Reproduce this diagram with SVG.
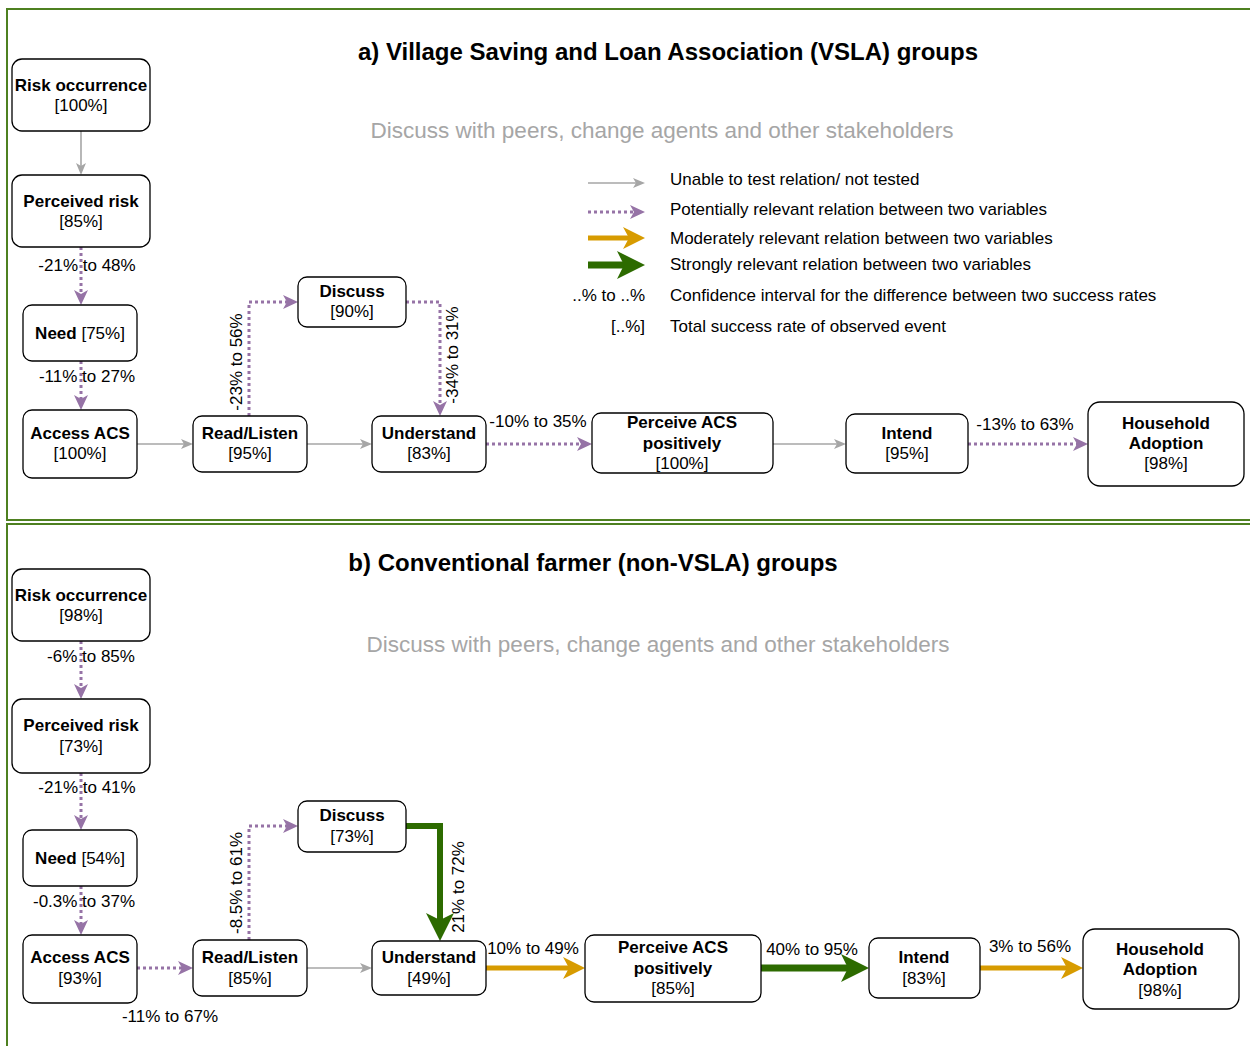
<svg xmlns="http://www.w3.org/2000/svg" width="1250" height="1046" viewBox="0 0 1250 1046">
<style>
.frame{fill:none;stroke:#4e8020;stroke-width:2}
.node rect{fill:#fff;stroke:#000;stroke-width:1.3}
text{font-family:"Liberation Sans",Arial,sans-serif;fill:#000}
.t{font-size:17px;text-anchor:middle}
.b{font-weight:bold}
.lbl{font-size:17px;text-anchor:middle}
.lg{font-size:17px}
.title{font-size:24px;font-weight:bold;text-anchor:middle}
.sub{font-size:22.5px;fill:#a6a6a6;text-anchor:middle}
.gray{fill:none;stroke:#a6a6a6;stroke-width:1.6}
.pur{fill:none;stroke:#9673a6;stroke-width:3;stroke-dasharray:3 3}
.ora{fill:none;stroke:#d79b00;stroke-width:5}
.grn{fill:none;stroke:#2d6b00;stroke-width:7}
</style>
<defs>
<marker id="mG" markerUnits="userSpaceOnUse" markerWidth="12" markerHeight="10" refX="3" refY="5" orient="auto" overflow="visible"><path d="M0,0 L12,5 L0,10 L3,5 Z" fill="#a6a6a6"/></marker>
<marker id="mP" markerUnits="userSpaceOnUse" markerWidth="15" markerHeight="14" refX="4" refY="7" orient="auto" overflow="visible"><path d="M0,0 L15,7 L0,14 L4,7 Z" fill="#9673a6"/></marker>
<marker id="mO" markerUnits="userSpaceOnUse" markerWidth="22" markerHeight="22" refX="6" refY="11" orient="auto" overflow="visible"><path d="M0,0 L22,11 L0,22 L6,11 Z" fill="#d79b00"/></marker>
<marker id="mGr" markerUnits="userSpaceOnUse" markerWidth="28" markerHeight="28" refX="7" refY="14" orient="auto" overflow="visible"><path d="M0,0 L28,14 L0,28 L7,14 Z" fill="#2d6b00"/></marker>
</defs>
<rect width="1250" height="1046" fill="#fff"/>
<rect class="frame" x="7" y="9" width="1260" height="511"/>
<rect class="frame" x="7" y="524" width="1260" height="540"/>

<!-- Panel a headings -->
<text class="title" x="668" y="60">a) Village Saving and Loan Association (VSLA) groups</text>
<text class="sub" x="662" y="138">Discuss with peers, change agents and other stakeholders</text>

<!-- Legend -->
<g id="legend">
<line class="gray" x1="588" y1="183" x2="636" y2="183" marker-end="url(#mG)"/>
<line class="pur" x1="588" y1="212" x2="634" y2="212" marker-end="url(#mP)"/>
<line class="ora" x1="588" y1="238" x2="629" y2="238" marker-end="url(#mO)"/>
<line class="grn" x1="588" y1="265" x2="624" y2="265" marker-end="url(#mGr)"/>
<text class="lg" x="670" y="185">Unable to test relation/ not tested</text>
<text class="lg" x="670" y="215">Potentially relevant relation between two variables</text>
<text class="lg" x="670" y="244">Moderately relevant relation between two variables</text>
<text class="lg" x="670" y="270">Strongly relevant relation between two variables</text>
<text class="lg" x="645" y="301" text-anchor="end">..% to ..%</text>
<text class="lg" x="670" y="301">Confidence interval for the difference between two success rates</text>
<text class="lg" x="645" y="332" text-anchor="end">[..%]</text>
<text class="lg" x="670" y="332">Total success rate of observed event</text>
</g>

<!-- Connectors -->
<g id="connectors">
<!-- panel a -->
<line class="gray" x1="81" y1="131" x2="81" y2="166" marker-end="url(#mG)"/>
<line class="pur" x1="81" y1="247" x2="81" y2="294" marker-end="url(#mP)"/>
<line class="pur" x1="81" y1="361" x2="81" y2="399" marker-end="url(#mP)"/>
<line class="gray" x1="137" y1="444" x2="184" y2="444" marker-end="url(#mG)"/>
<line class="gray" x1="307" y1="444" x2="363" y2="444" marker-end="url(#mG)"/>
<polyline class="pur" points="249,416 249,302 287,302" marker-end="url(#mP)"/>
<polyline class="pur" points="406,302 440,302 440,405" marker-end="url(#mP)"/>
<line class="pur" x1="486" y1="444" x2="581" y2="444" marker-end="url(#mP)"/>
<line class="gray" x1="773" y1="444" x2="837" y2="444" marker-end="url(#mG)"/>
<line class="pur" x1="968" y1="444" x2="1077" y2="444" marker-end="url(#mP)"/>
<text class="lbl" x="87" y="271">-21% to 48%</text>
<text class="lbl" x="87" y="382">-11% to 27%</text>
<text class="lbl" transform="translate(242,362) rotate(-90)">-23% to 56%</text>
<text class="lbl" transform="translate(458,355) rotate(-90)">-34% to 31%</text>
<text class="lbl" x="538" y="427">-10% to 35%</text>
<text class="lbl" x="1025" y="430">-13% to 63%</text>
<!-- panel b -->
<line class="pur" x1="81" y1="641" x2="81" y2="688" marker-end="url(#mP)"/>
<line class="pur" x1="81" y1="773" x2="81" y2="819" marker-end="url(#mP)"/>
<line class="pur" x1="81" y1="886" x2="81" y2="924" marker-end="url(#mP)"/>
<line class="pur" x1="137" y1="968" x2="182" y2="968" marker-end="url(#mP)"/>
<line class="gray" x1="307" y1="968" x2="363" y2="968" marker-end="url(#mG)"/>
<polyline class="pur" points="249,940 249,826 287,826" marker-end="url(#mP)"/>
<polyline class="grn" style="stroke-width:6" points="406,826 440,826 440,920" marker-end="url(#mGr)"/>
<line class="ora" x1="486" y1="968" x2="569" y2="968" marker-end="url(#mO)"/>
<line class="grn" x1="761" y1="968" x2="848" y2="968" marker-end="url(#mGr)"/>
<line class="ora" x1="980" y1="968" x2="1067" y2="968" marker-end="url(#mO)"/>
<text class="lbl" x="91" y="662">-6% to 85%</text>
<text class="lbl" x="87" y="793">-21% to 41%</text>
<text class="lbl" x="84" y="907">-0.3% to 37%</text>
<text class="lbl" x="170" y="1022">-11% to 67%</text>
<text class="lbl" transform="translate(242,883) rotate(-90)">-8.5% to 61%</text>
<text class="lbl" transform="translate(464,887) rotate(-90)">21% to 72%</text>
<text class="lbl" x="533" y="954">10% to 49%</text>
<text class="lbl" x="812" y="955">40% to 95%</text>
<text class="lbl" x="1030" y="952">3% to 56%</text>
</g>

<!-- Panel a nodes -->
<g id="a-risk" class="node"><rect x="12" y="59" width="138" height="72" rx="10"/><text class="t b" x="81" y="91">Risk occurrence</text><text class="t" x="81" y="111">[100%]</text></g>
<g id="a-perceived" class="node"><rect x="12" y="175" width="138" height="72" rx="10"/><text class="t b" x="81" y="207">Perceived risk</text><text class="t" x="81" y="227">[85%]</text></g>
<g id="a-need" class="node"><rect x="23" y="305" width="114" height="56" rx="9"/><text class="t" x="80" y="339"><tspan class="b">Need</tspan> [75%]</text></g>
<g id="a-access" class="node"><rect x="23" y="410" width="114" height="68" rx="9"/><text class="t b" x="80" y="439">Access ACS</text><text class="t" x="80" y="459">[100%]</text></g>
<g id="a-read" class="node"><rect x="193" y="416" width="114" height="56" rx="9"/><text class="t b" x="250" y="439">Read/Listen</text><text class="t" x="250" y="459">[95%]</text></g>
<g id="a-discuss" class="node"><rect x="298" y="277" width="108" height="50" rx="9"/><text class="t b" x="352" y="297">Discuss</text><text class="t" x="352" y="317">[90%]</text></g>
<g id="a-understand" class="node"><rect x="372" y="416" width="114" height="56" rx="9"/><text class="t b" x="429" y="439">Understand</text><text class="t" x="429" y="459">[83%]</text></g>
<g id="a-perceive" class="node"><rect x="592" y="413" width="181" height="60" rx="9"/><text class="t b" x="682" y="428">Perceive ACS</text><text class="t b" x="682" y="449">positively</text><text class="t" x="682" y="469">[100%]</text></g>
<g id="a-intend" class="node"><rect x="846" y="414" width="122" height="59" rx="9"/><text class="t b" x="907" y="439">Intend</text><text class="t" x="907" y="459">[95%]</text></g>
<g id="a-household" class="node"><rect x="1088" y="402" width="156" height="84" rx="12"/><text class="t b" x="1166" y="429">Household</text><text class="t b" x="1166" y="449">Adoption</text><text class="t" x="1166" y="469">[98%]</text></g>

<!-- Panel b headings -->
<text class="title" x="593" y="571">b) Conventional farmer (non-VSLA) groups</text>
<text class="sub" x="658" y="652">Discuss with peers, change agents and other stakeholders</text>

<!-- Panel b nodes -->
<g id="b-risk" class="node"><rect x="12" y="569" width="138" height="72" rx="10"/><text class="t b" x="81" y="601">Risk occurrence</text><text class="t" x="81" y="621">[98%]</text></g>
<g id="b-perceived" class="node"><rect x="12" y="699" width="138" height="74" rx="10"/><text class="t b" x="81" y="731">Perceived risk</text><text class="t" x="81" y="752">[73%]</text></g>
<g id="b-need" class="node"><rect x="23" y="830" width="114" height="56" rx="9"/><text class="t" x="80" y="864"><tspan class="b">Need</tspan> [54%]</text></g>
<g id="b-access" class="node"><rect x="23" y="935" width="114" height="68" rx="9"/><text class="t b" x="80" y="963">Access ACS</text><text class="t" x="80" y="984">[93%]</text></g>
<g id="b-read" class="node"><rect x="193" y="940" width="114" height="56" rx="9"/><text class="t b" x="250" y="963">Read/Listen</text><text class="t" x="250" y="984">[85%]</text></g>
<g id="b-discuss" class="node"><rect x="298" y="801" width="108" height="51" rx="9"/><text class="t b" x="352" y="821">Discuss</text><text class="t" x="352" y="842">[73%]</text></g>
<g id="b-understand" class="node"><rect x="372" y="941" width="114" height="54" rx="9"/><text class="t b" x="429" y="963">Understand</text><text class="t" x="429" y="984">[49%]</text></g>
<g id="b-perceive" class="node"><rect x="585" y="935" width="176" height="67" rx="9"/><text class="t b" x="673" y="953">Perceive ACS</text><text class="t b" x="673" y="974">positively</text><text class="t" x="673" y="994">[85%]</text></g>
<g id="b-intend" class="node"><rect x="869" y="938" width="111" height="60" rx="9"/><text class="t b" x="924" y="963">Intend</text><text class="t" x="924" y="984">[83%]</text></g>
<g id="b-household" class="node"><rect x="1083" y="929" width="156" height="80" rx="12"/><text class="t b" x="1160" y="955">Household</text><text class="t b" x="1160" y="975">Adoption</text><text class="t" x="1160" y="996">[98%]</text></g>
</svg>
